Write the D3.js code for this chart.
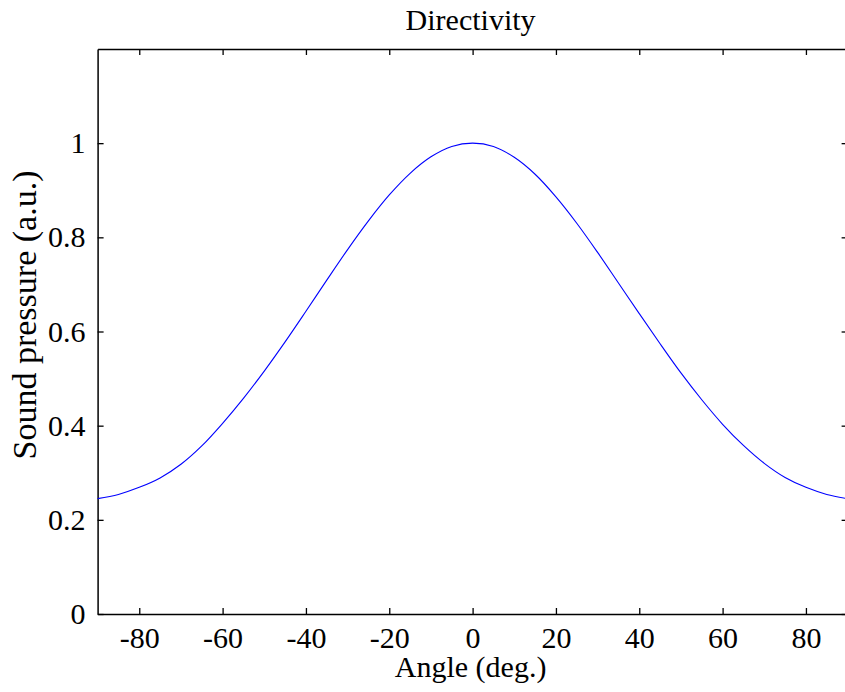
<!DOCTYPE html>
<html>
<head>
<meta charset="utf-8">
<script src="https://cdn.jsdelivr.net/npm/d3@7"></script>
<style>
  body { margin: 0; background: #fff; }
  svg { display: block; }
  text { font-family: "Liberation Serif", "Times New Roman", serif; fill: #000; }
</style>
</head>
<body>
<div id="chart"></div>
<script>
// angle (deg) and normalised sound pressure
var angles = [-90, -85, -80, -75, -70, -65, -60, -55, -50, -45, -40, -35, -30, -25, -20, -15, -10, -5,
  0, 5, 10, 15, 20, 25, 30, 35, 40, 45, 50, 55, 60, 65, 70, 75, 80, 85, 90];
var pressure = [0.245, 0.254, 0.269, 0.289, 0.318, 0.357, 0.405, 0.458, 0.516, 0.578, 0.643, 0.709, 0.774, 0.835, 0.890, 0.936, 0.971, 0.993,
  1.0, 0.993, 0.970, 0.934, 0.886, 0.830, 0.768, 0.703, 0.638, 0.574, 0.512, 0.455, 0.403, 0.358, 0.320, 0.290, 0.269, 0.254, 0.245];

var xTicks = [-80, -60, -40, -20, 0, 20, 40, 60, 80];
var yTicks = [0, 0.2, 0.4, 0.6, 0.8, 1];

var titleText = "Directivity";
var xLabel = "Angle (deg.)";
var yLabel = "Sound pressure (a.u.)";

//Width and height
var w = 845;
var h = 692;
var padL = 97.6, padR = 847.6, padT = 49, padB = 614;

var x = d3.scaleLinear().domain([-90, 90]).range([padL, padR]);
var y = d3.scaleLinear().domain([0, 1.2]).range([padB, padT]);

var svg = d3.select("#chart")
  .append("svg")
  .attr("width", w)
  .attr("height", h);

// plain hyphen minus, like the original
var fmt = function (d) { return String(d); };

//axes, ticks pointing inwards on all four sides
svg.append("g")
  .attr("transform", "translate(0," + padB + ")")
  .call(d3.axisBottom(x).tickValues(xTicks).tickSizeInner(-6).tickSizeOuter(0).tickPadding(13).tickFormat(fmt));
svg.append("g")
  .attr("transform", "translate(0," + padT + ")")
  .call(d3.axisTop(x).tickValues(xTicks).tickSizeInner(-6).tickSizeOuter(0).tickFormat(""));
svg.append("g")
  .attr("transform", "translate(" + padL + ",0)")
  .call(d3.axisLeft(y).tickValues(yTicks).tickSizeInner(-6).tickSizeOuter(0).tickPadding(12).tickFormat(fmt));
svg.append("g")
  .attr("transform", "translate(" + padR + ",0)")
  .call(d3.axisRight(y).tickValues(yTicks).tickSizeInner(-6).tickSizeOuter(0).tickFormat(""));

svg.selectAll(".domain").attr("stroke", "#000").attr("stroke-width", 1.5);
svg.selectAll(".tick line").attr("stroke", "#000").attr("stroke-width", 1.3);
svg.selectAll(".tick text")
  .attr("font-family", "Liberation Serif")
  .attr("font-size", 30)
  .attr("fill", "#000");

//curve
var line = d3.line()
  .x(function (d, i) { return x(angles[i]); })
  .y(function (d) { return y(d); })
  .curve(d3.curveCatmullRom.alpha(0.5));

svg.append("path")
  .datum(pressure)
  .attr("d", line)
  .attr("fill", "none")
  .attr("stroke", "#0000ff")
  .attr("stroke-width", 1.1);

//labels
svg.append("text")
  .attr("x", (padL + padR) / 2 - 2)
  .attr("y", 30)
  .attr("text-anchor", "middle")
  .attr("font-size", 30)
  .text(titleText);

svg.append("text")
  .attr("x", (padL + padR) / 2 - 2)
  .attr("y", 677)
  .attr("text-anchor", "middle")
  .attr("font-size", 30)
  .text(xLabel);

svg.append("text")
  .attr("transform", "translate(36,315) rotate(-90)")
  .attr("text-anchor", "middle")
  .attr("font-size", 34)
  .text(yLabel);
</script>
</body>
</html>
